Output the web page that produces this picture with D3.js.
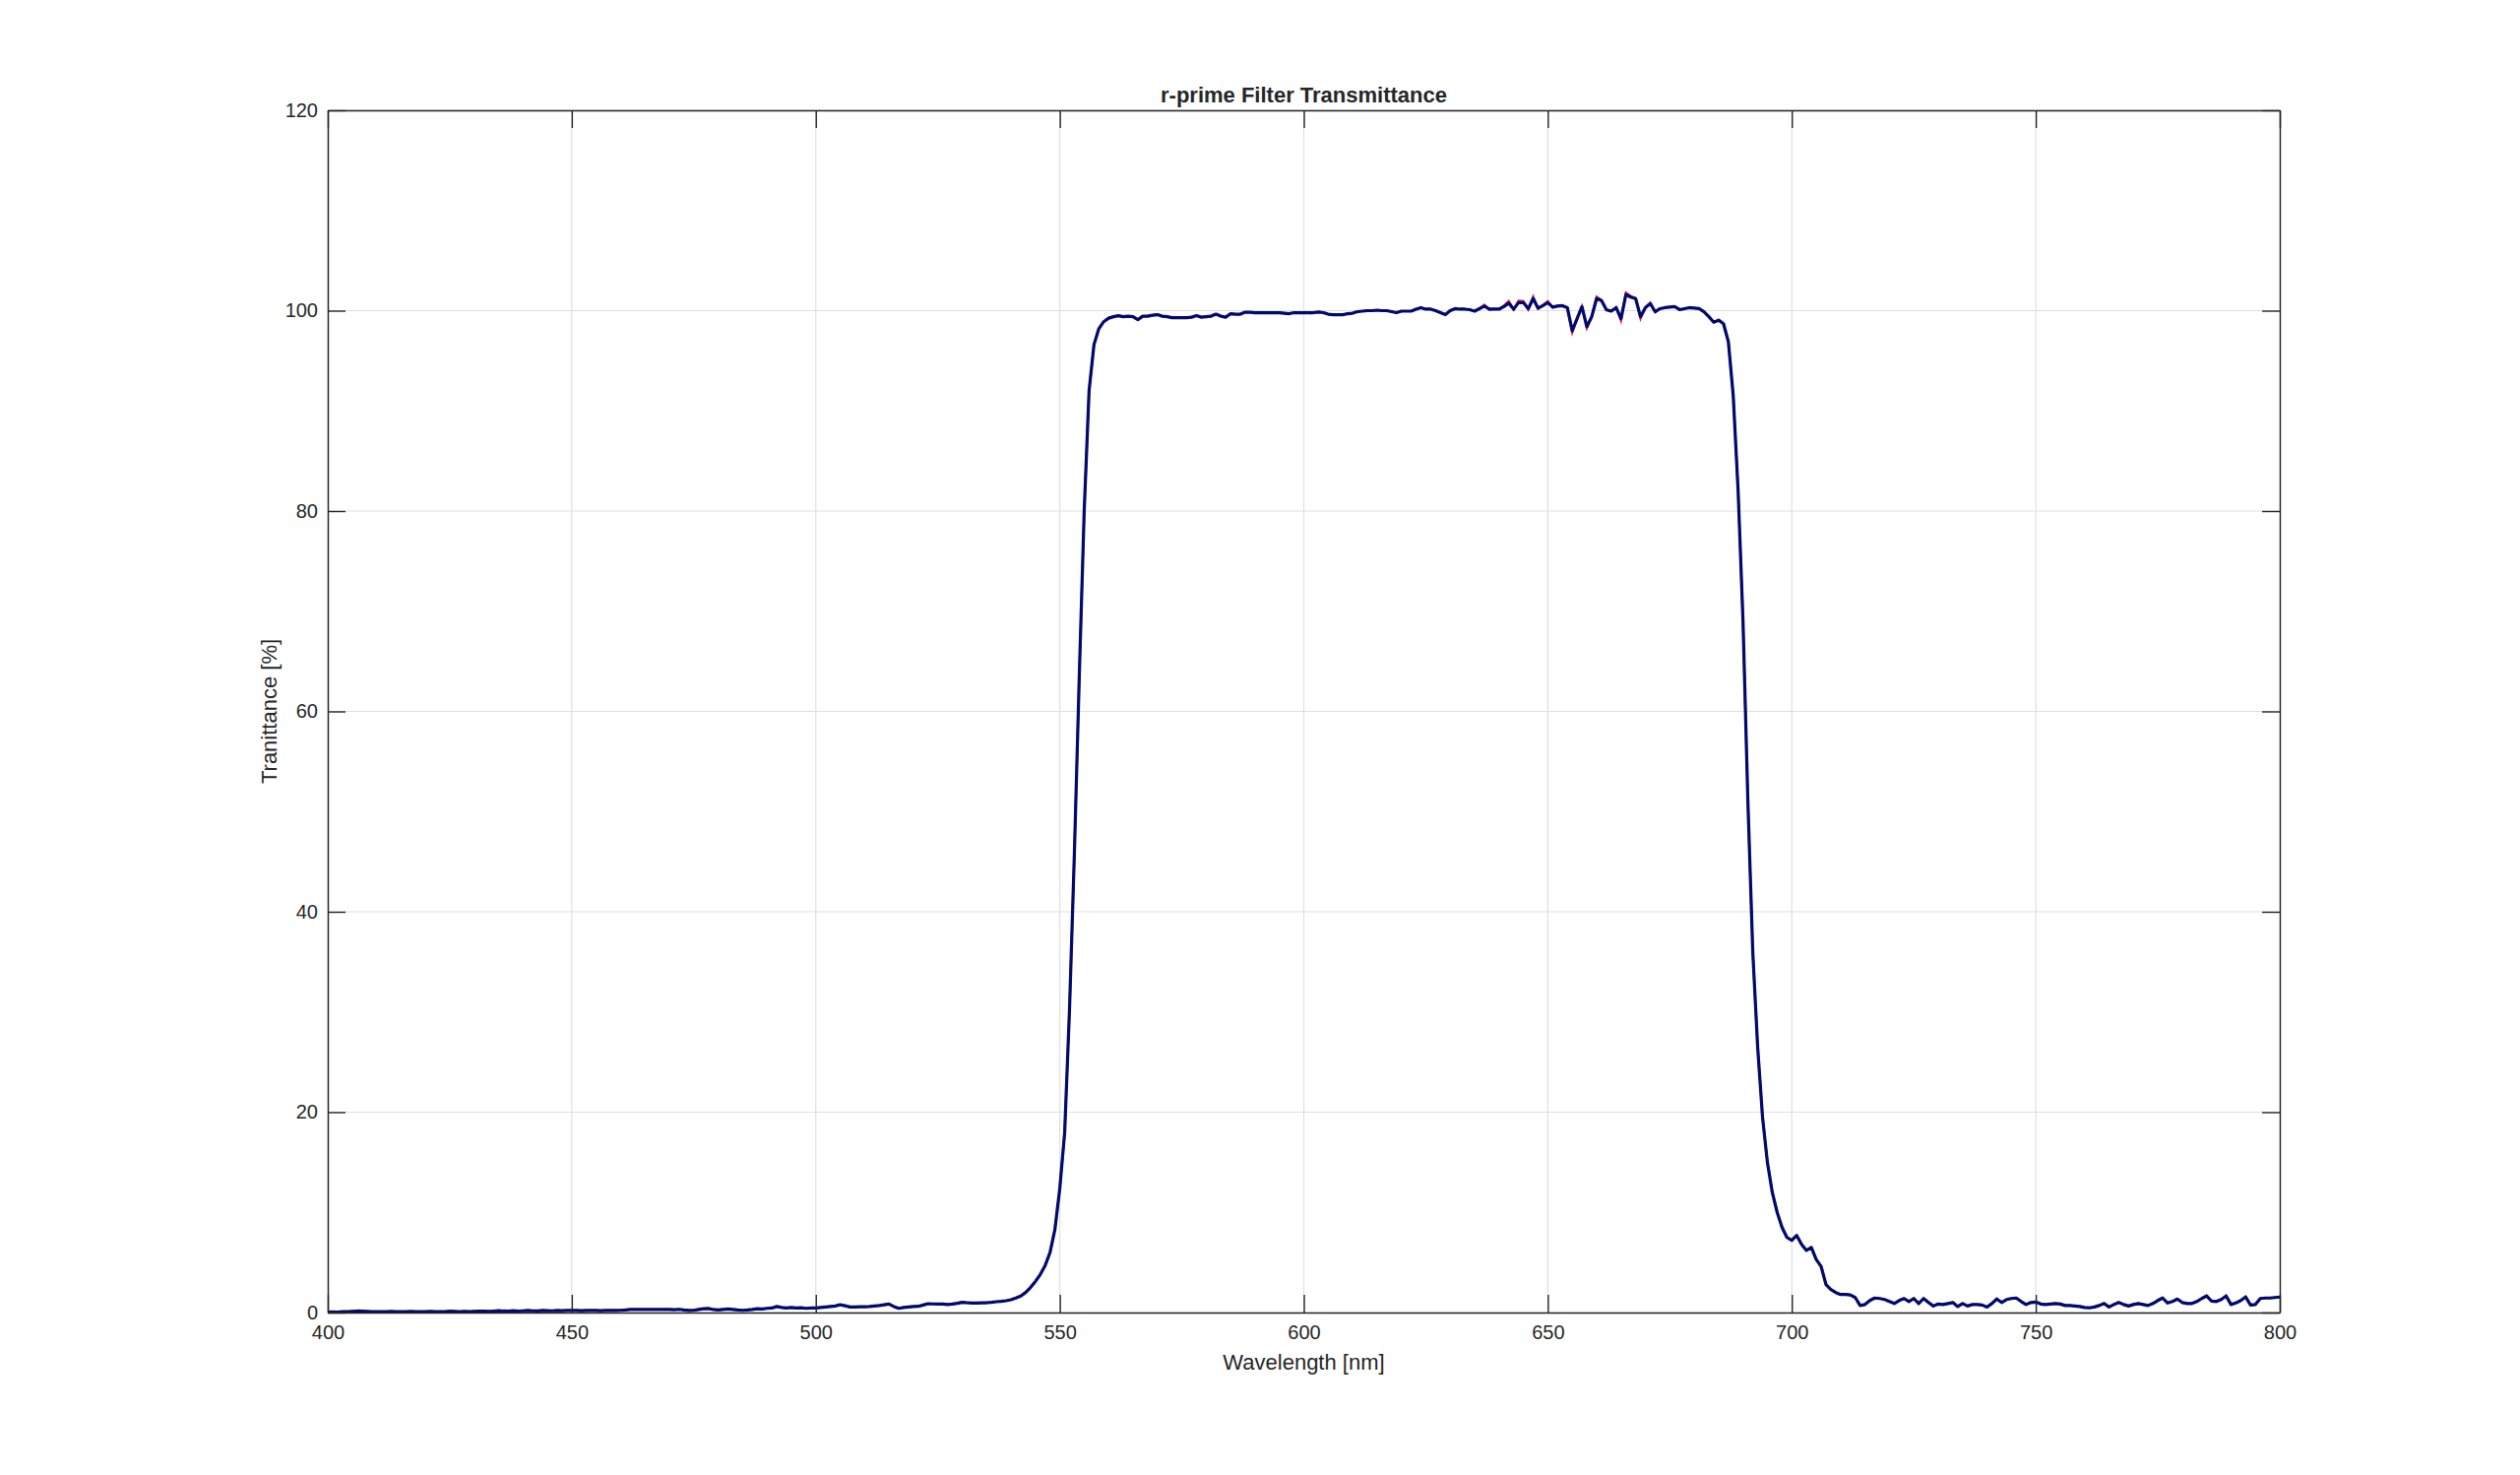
<!DOCTYPE html>
<html>
<head>
<meta charset="utf-8">
<script src="https://cdn.jsdelivr.net/npm/d3@7"></script>
<style>
  html, body { margin: 0; padding: 0; background: #ffffff; }
  svg { display: block; }
  text { font-family: "Liberation Sans", Arial, Helvetica, sans-serif; fill: #262626; }
</style>
</head>
<body>
<svg id="chart" width="2560" height="1498"></svg>
<script>
// ---------------- data ----------------
const titleText = "r-prime Filter Transmittance";
const xLabelText = "Wavelength [nm]";
const yLabelText = "Tranittance [%]";
const xTicks = [400, 450, 500, 550, 600, 650, 700, 750, 800];
const yTicks = [0, 20, 40, 60, 80, 100, 120];
const xDomain = [400, 800];
const yDomain = [0, 120];

// sampling grid: 400..800 nm, 1 nm step
const wavelengths = d3.range(400, 801, 1);

// dark blue series (drawn on top)
const navyValues = [
  0.05,0.06,0.05,0.08,0.10,0.12,0.15,0.14,0.12,0.10,
  0.10,0.08,0.10,0.12,0.10,0.08,0.10,0.12,0.10,0.08,
  0.10,0.12,0.10,0.09,0.10,0.13,0.11,0.10,0.12,0.10,
  0.12,0.15,0.13,0.12,0.15,0.18,0.15,0.14,0.18,0.15,
  0.17,0.20,0.17,0.16,0.20,0.18,0.17,0.20,0.18,0.20,
  0.22,0.20,0.18,0.20,0.22,0.20,0.19,0.22,0.20,0.20,
  0.22,0.25,0.30,0.32,0.30,0.30,0.32,0.30,0.32,0.30,
  0.30,0.28,0.32,0.25,0.20,0.22,0.30,0.38,0.40,0.30,
  0.25,0.30,0.35,0.30,0.25,0.22,0.25,0.30,0.38,0.35,
  0.42,0.45,0.60,0.50,0.45,0.50,0.45,0.48,0.42,0.45,
  0.45,0.50,0.55,0.60,0.65,0.78,0.68,0.55,0.55,0.58,
  0.58,0.60,0.65,0.70,0.78,0.85,0.60,0.42,0.50,0.55,
  0.60,0.62,0.75,0.88,0.86,0.84,0.84,0.80,0.84,0.92,
  1.02,0.98,0.94,0.94,0.97,0.98,1.02,1.08,1.12,1.18,
  1.28,1.45,1.65,2.00,2.50,3.10,3.80,4.70,6.00,8.30,
  12.4,18.0,30.4,46.0,63.6,80.0,92.0,96.6,98.2,98.9,
  99.25,99.4,99.5,99.4,99.45,99.4,99.1,99.45,99.45,99.55,
  99.6,99.45,99.4,99.3,99.3,99.3,99.3,99.35,99.5,99.35,
  99.4,99.45,99.65,99.45,99.35,99.7,99.65,99.65,99.85,99.85,
  99.8,99.8,99.8,99.8,99.8,99.8,99.75,99.7,99.8,99.8,
  99.8,99.8,99.8,99.87,99.8,99.65,99.6,99.6,99.6,99.7,
  99.75,99.9,99.95,100.0,100.0,100.05,100.0,100.0,99.9,99.8,
  99.95,99.95,99.95,100.15,100.3,100.15,100.15,100.0,99.8,99.6,
  100.0,100.2,100.15,100.15,100.1,99.95,100.2,100.45,100.15,100.15,
  100.15,100.4,100.75,100.15,100.8,100.8,100.2,101.2,100.25,100.5,
  100.8,100.35,100.45,100.5,100.3,98.0,99.2,100.4,98.4,99.4,
  101.2,101.0,100.1,99.95,100.3,99.2,101.6,101.35,101.2,99.4,
  100.3,100.7,99.9,100.2,100.3,100.35,100.4,100.1,100.2,100.3,
  100.25,100.2,99.9,99.4,98.85,99.05,98.7,96.9,91.5,82.0,
  69.0,51.0,36.0,26.5,19.5,15.0,12.0,10.0,8.5,7.5,
  7.2,7.7,6.8,6.2,6.5,5.3,4.6,2.8,2.3,2.0,
  1.8,1.8,1.75,1.5,0.7,0.8,1.2,1.45,1.4,1.3,
  1.1,0.9,1.2,1.4,1.1,1.4,0.9,1.4,1.0,0.65,
  0.85,0.8,0.9,1.0,0.6,0.9,0.65,0.8,0.8,0.75,
  0.55,0.9,1.35,1.0,1.3,1.4,1.45,1.1,0.8,1.0,
  1.05,0.85,0.8,0.85,0.9,0.85,0.7,0.7,0.65,0.6,
  0.5,0.47,0.55,0.7,0.9,0.55,0.8,1.0,0.8,0.65,
  0.8,0.9,0.8,0.7,0.9,1.2,1.45,0.95,1.1,1.35,
  1.0,0.9,0.9,1.1,1.4,1.65,1.15,1.1,1.3,1.65,
  0.8,0.95,1.2,1.55,0.75,0.8,1.4,1.45,1.45,1.5,
  1.55
];

// red series (drawn underneath, peeks out at the spikes)
const redValues = [
  0.05,0.06,0.05,0.08,0.10,0.12,0.15,0.14,0.12,0.10,
  0.10,0.08,0.10,0.12,0.10,0.08,0.10,0.12,0.10,0.08,
  0.10,0.12,0.10,0.09,0.10,0.13,0.11,0.10,0.12,0.10,
  0.12,0.15,0.13,0.12,0.15,0.18,0.15,0.14,0.18,0.15,
  0.17,0.20,0.17,0.16,0.20,0.18,0.17,0.20,0.18,0.20,
  0.22,0.20,0.18,0.20,0.22,0.20,0.19,0.22,0.20,0.20,
  0.22,0.25,0.30,0.32,0.30,0.30,0.32,0.30,0.32,0.30,
  0.30,0.28,0.32,0.25,0.20,0.22,0.30,0.38,0.40,0.30,
  0.25,0.30,0.35,0.30,0.25,0.22,0.25,0.30,0.38,0.35,
  0.42,0.45,0.60,0.50,0.45,0.50,0.45,0.48,0.42,0.45,
  0.45,0.50,0.55,0.60,0.65,0.78,0.68,0.55,0.55,0.58,
  0.58,0.60,0.65,0.70,0.78,0.85,0.60,0.42,0.50,0.55,
  0.60,0.62,0.75,0.88,0.86,0.84,0.84,0.80,0.84,0.92,
  1.02,0.98,0.94,0.94,0.97,0.98,1.02,1.08,1.12,1.18,
  1.28,1.45,1.65,2.00,2.50,3.10,3.80,4.70,6.00,8.30,
  12.4,18.0,30.4,46.0,63.6,80.0,92.0,96.6,98.2,98.9,
  99.25,99.4,99.5,99.4,99.45,99.4,99.1,99.45,99.45,99.55,
  99.6,99.45,99.4,99.3,99.3,99.3,99.3,99.35,99.5,99.35,
  99.4,99.45,99.65,99.45,99.35,99.7,99.65,99.65,99.85,99.85,
  99.8,99.8,99.8,99.8,99.8,99.8,99.75,99.7,99.8,99.8,
  99.8,99.8,99.8,99.87,99.8,99.65,99.6,99.6,99.6,99.7,
  99.75,99.9,99.95,100.0,100.0,100.05,100.0,100.0,99.9,99.8,
  99.95,99.95,99.95,100.15,100.3,100.15,100.15,100.0,99.8,99.6,
  100.0,100.2,100.15,100.15,100.1,99.95,100.2,100.6,100.1,100.15,
  100.15,100.5,100.95,100.1,101.0,100.95,100.1,101.4,100.2,100.55,
  100.95,100.3,100.5,100.5,100.3,97.8,99.2,100.45,98.25,99.4,
  101.4,101.05,100.05,99.95,100.35,99.0,101.8,101.45,101.25,99.2,
  100.35,100.8,99.85,100.2,100.3,100.35,100.4,100.1,100.2,100.3,
  100.25,100.2,99.9,99.4,98.85,99.05,98.7,96.9,91.5,82.0,
  69.0,51.0,36.0,26.5,19.5,15.0,12.0,10.0,8.5,7.5,
  7.2,7.7,6.8,6.2,6.5,5.3,4.6,2.8,2.3,2.0,
  1.8,1.8,1.75,1.5,0.7,0.8,1.2,1.45,1.4,1.3,
  1.1,0.9,1.2,1.4,1.1,1.4,0.9,1.4,1.0,0.65,
  0.85,0.8,0.9,1.0,0.6,0.9,0.65,0.8,0.8,0.75,
  0.55,0.9,1.35,1.0,1.3,1.4,1.45,1.1,0.8,1.0,
  1.05,0.85,0.8,0.85,0.9,0.85,0.7,0.7,0.65,0.6,
  0.5,0.47,0.55,0.7,0.9,0.55,0.8,1.0,0.8,0.65,
  0.8,0.9,0.8,0.7,0.9,1.2,1.45,0.95,1.1,1.35,
  1.0,0.9,0.9,1.1,1.4,1.7,1.15,1.1,1.3,1.7,
  0.8,0.95,1.2,1.6,0.75,0.8,1.4,1.45,1.45,1.5,
  1.55
];

// ---------------- layout ----------------
const W = 2560, H = 1498;
const plot = { left: 333, right: 2316, top: 112, bottom: 1333 };
const tickLen = 18;
const axisColor = "#262626";
const gridColor = "#dfdfdf";
const fontFamily = "'Liberation Sans', Arial, Helvetica, sans-serif";

const svg = d3.select("#chart");
svg.append("rect").attr("width", W).attr("height", H).attr("fill", "#ffffff");

const x = d3.scaleLinear().domain(xDomain).range([plot.left, plot.right]);
const y = d3.scaleLinear().domain(yDomain).range([plot.bottom, plot.top]);

// grid
const grid = svg.append("g");
grid.selectAll("line.gx").data(xTicks).join("line")
  .attr("x1", d => x(d)).attr("x2", d => x(d))
  .attr("y1", plot.top).attr("y2", plot.bottom)
  .attr("stroke", gridColor).attr("stroke-width", 1.2);
grid.selectAll("line.gy").data(yTicks).join("line")
  .attr("x1", plot.left).attr("x2", plot.right)
  .attr("y1", d => y(d)).attr("y2", d => y(d))
  .attr("stroke", gridColor).attr("stroke-width", 1.2);

// lines
const line = d3.line().x((d, i) => x(wavelengths[i])).y(d => y(d));
svg.append("path").datum(redValues)
  .attr("d", line).attr("fill", "none")
  .attr("stroke", "#e8173a").attr("stroke-width", 2.2)
  .attr("stroke-linejoin", "miter");
svg.append("path").datum(navyValues)
  .attr("d", line).attr("fill", "none")
  .attr("stroke", "#000a6e").attr("stroke-width", 3.2)
  .attr("stroke-linejoin", "round");

// axes (inward ticks on all four sides, box)
const fmt = d3.format("d");
const axB = svg.append("g").attr("transform", `translate(0,${plot.bottom})`)
  .call(d3.axisBottom(x).tickValues(xTicks).tickFormat(fmt).tickSizeInner(-tickLen).tickSizeOuter(0).tickPadding(13));
const axT = svg.append("g").attr("transform", `translate(0,${plot.top})`)
  .call(d3.axisTop(x).tickValues(xTicks).tickFormat("").tickSizeInner(-tickLen).tickSizeOuter(0));
const axL = svg.append("g").attr("transform", `translate(${plot.left},0)`)
  .call(d3.axisLeft(y).tickValues(yTicks).tickFormat(fmt).tickSizeInner(-tickLen).tickSizeOuter(0).tickPadding(10));
const axR = svg.append("g").attr("transform", `translate(${plot.right},0)`)
  .call(d3.axisRight(y).tickValues(yTicks).tickFormat("").tickSizeInner(-tickLen).tickSizeOuter(0));

[axB, axT, axL, axR].forEach(a => {
  a.select(".domain").attr("stroke", axisColor).attr("stroke-width", 1.4);
  a.selectAll(".tick line").attr("stroke", axisColor).attr("stroke-width", 1.4);
  a.selectAll(".tick text").attr("font-size", 20).attr("fill", axisColor)
    .attr("font-family", fontFamily);
});
axB.selectAll(".tick text").attr("dy", "0.71em");

// title and labels
svg.append("text").attr("x", (plot.left + plot.right) / 2).attr("y", 104)
  .attr("text-anchor", "middle").attr("font-size", 22).attr("font-weight", "bold")
  .attr("font-family", fontFamily).attr("fill", "#000000").text(titleText);
svg.append("text").attr("x", (plot.left + plot.right) / 2).attr("y", 1391)
  .attr("text-anchor", "middle").attr("font-size", 22)
  .attr("font-family", fontFamily).text(xLabelText);
svg.append("text")
  .attr("transform", `translate(281,${(plot.top + plot.bottom) / 2}) rotate(-90)`)
  .attr("text-anchor", "middle").attr("font-size", 22)
  .attr("font-family", fontFamily).text(yLabelText);
</script>
</body>
</html>
